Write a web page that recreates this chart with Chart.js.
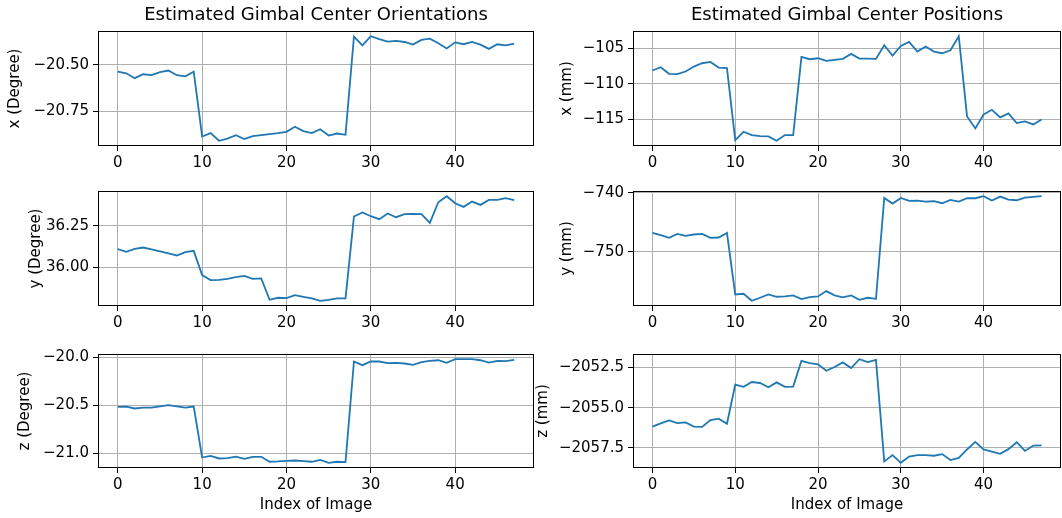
<!DOCTYPE html>
<html>
<head>
<meta charset="utf-8">
<script src="https://cdn.jsdelivr.net/npm/chart.js@4.4.1/dist/chart.umd.min.js"></script>
<style>
  html, body { margin: 0; padding: 0; background: #fff; }
  #fig { position: relative; width: 1062px; height: 518px; overflow: hidden; }
  #fig canvas { position: absolute; }
</style>
</head>
<body>
<div id="fig">
  <canvas id="orientX"></canvas>
  <canvas id="posX"></canvas>
  <canvas id="orientY"></canvas>
  <canvas id="posY"></canvas>
  <canvas id="orientZ"></canvas>
  <canvas id="posZ"></canvas>
</div>
<script>
// --- data ---
const imageIndex = [0, 1, 2, 3, 4, 5, 6, 7, 8, 9, 10, 11, 12, 13, 14, 15, 16, 17, 18, 19, 20, 21, 22, 23,
  24, 25, 26, 27, 28, 29, 30, 31, 32, 33, 34, 35, 36, 37, 38, 39, 40, 41, 42, 43, 44, 45, 46, 47];

const orientXDeg = [-20.536, -20.545, -20.571, -20.550, -20.555, -20.539, -20.530, -20.555, -20.561, -20.536,
  -20.884, -20.866, -20.907, -20.895, -20.877, -20.898, -20.882, -20.877, -20.871, -20.866,
  -20.859, -20.832, -20.855, -20.866, -20.845, -20.879, -20.868, -20.875, -20.348, -20.395,
  -20.346, -20.362, -20.375, -20.371, -20.377, -20.391, -20.366, -20.359, -20.384, -20.412,
  -20.379, -20.389, -20.377, -20.391, -20.414, -20.389, -20.395, -20.386];

const orientYDeg = [36.110, 36.094, 36.112, 36.120, 36.108, 36.096, 36.084, 36.072, 36.092, 36.100,
  35.954, 35.924, 35.926, 35.932, 35.942, 35.950, 35.932, 35.934, 35.806, 35.818,
  35.816, 35.834, 35.824, 35.814, 35.800, 35.806, 35.814, 35.814, 36.306, 36.330,
  36.308, 36.290, 36.324, 36.302, 36.320, 36.322, 36.320, 36.268, 36.392, 36.428,
  36.386, 36.364, 36.396, 36.376, 36.406, 36.406, 36.416, 36.404];

const orientZDeg = [-20.515, -20.512, -20.532, -20.522, -20.522, -20.509, -20.498, -20.509, -20.522, -20.512,
  -21.041, -21.024, -21.051, -21.048, -21.031, -21.055, -21.034, -21.034, -21.085, -21.082,
  -21.075, -21.072, -21.078, -21.085, -21.065, -21.096, -21.085, -21.089, -20.044, -20.082,
  -20.044, -20.044, -20.061, -20.058, -20.065, -20.078, -20.051, -20.038, -20.031, -20.058,
  -20.020, -20.020, -20.020, -20.031, -20.055, -20.038, -20.041, -20.027];

const posXmm = [-108.11, -107.64, -108.58, -108.63, -108.25, -107.55, -107.08, -106.89, -107.69, -107.78,
  -117.97, -116.79, -117.26, -117.41, -117.45, -118.07, -117.26, -117.26, -106.18, -106.51,
  -106.37, -106.75, -106.60, -106.46, -105.75, -106.42, -106.42, -106.46, -104.53, -105.99,
  -104.62, -104.06, -105.42, -104.72, -105.42, -105.66, -105.24, -103.25, -114.62, -116.32,
  -114.34, -113.68, -114.76, -114.20, -115.57, -115.33, -115.75, -115.05];

const posYmm = [-746.78, -747.18, -747.63, -746.95, -747.29, -747.06, -746.95, -747.63, -747.57, -746.78,
  -757.23, -757.12, -758.31, -757.80, -757.23, -757.63, -757.57, -757.40, -758.02, -757.68,
  -757.57, -756.67, -757.40, -757.74, -757.40, -758.14, -757.80, -757.97, -740.85, -741.81,
  -740.85, -741.36, -741.30, -741.47, -741.41, -741.75, -741.19, -741.47, -740.90, -740.90,
  -740.56, -741.30, -740.62, -741.13, -741.24, -740.79, -740.68, -740.56];

const posZmm = [-2056.18, -2055.98, -2055.79, -2055.96, -2055.92, -2056.18, -2056.20, -2055.77, -2055.69, -2056.00,
  -2053.57, -2053.71, -2053.41, -2053.47, -2053.73, -2053.43, -2053.71, -2053.69, -2052.09, -2052.23,
  -2052.31, -2052.71, -2052.48, -2052.19, -2052.54, -2051.99, -2052.17, -2052.03, -2058.34, -2057.95,
  -2058.43, -2058.04, -2057.95, -2057.95, -2057.99, -2057.89, -2058.26, -2058.12, -2057.60, -2057.13,
  -2057.60, -2057.73, -2057.87, -2057.58, -2057.15, -2057.69, -2057.36, -2057.34];

const indexTicks = [0, 10, 20, 30, 40];
const orientXTicks = [-20.75, -20.50];
const orientYTicks = [36.00, 36.25];
const orientZTicks = [-21.0, -20.5, -20.0];
const posXTicks = [-115, -110, -105];
const posYTicks = [-750, -740];
const posZTicks = [-2057.5, -2055.0, -2052.5];

// --- styling ---
const FONT = "'DejaVu Sans', sans-serif";
const TICK_SIZE = 15;
const TITLE_SIZE = 18;
const LINE_COLOR = '#1f77b4';
const GRID_COLOR = '#b0b0b0';

// black frame round the plot area, drawn above the line like matplotlib spines
const framePlugin = {
    id: 'frame',
    afterDatasetsDraw(chart) {
        const a = chart.chartArea;
        const ctx = chart.ctx;
        ctx.save();
        ctx.strokeStyle = '#000';
        ctx.lineWidth = 1;
        const l = Math.round(a.left) + 0.5, t = Math.round(a.top) + 0.5;
        const r = Math.round(a.right) - 0.5, b = Math.round(a.bottom) - 0.5;
        ctx.strokeRect(l, t, r - l, b - t);
        ctx.restore();
    }
};

const fmt = (v, d) => (v < 0 ? '\u2212' : '') + Math.abs(v).toFixed(d);

function makePanel(id, box, cfg) {
    const cv = document.getElementById(id);
    cv.width = box.w; cv.height = box.h;
    cv.style.left = box.x + 'px';
    cv.style.top = box.y + 'px';

    const vals = cfg.values;
    const lo = Math.min(...vals), hi = Math.max(...vals);
    const m = (hi - lo) * 0.05;
    const xm = (imageIndex[imageIndex.length - 1] - imageIndex[0]) * 0.05;

    new Chart(cv.getContext('2d'), {
        type: 'line',
        data: {
            datasets: [{
                data: imageIndex.map((x, i) => ({ x: x, y: vals[i] })),
                borderColor: LINE_COLOR,
                borderWidth: 1.8,
                pointRadius: 0,
                tension: 0,
                fill: false
            }]
        },
        options: {
            responsive: false,
            animation: false,
            devicePixelRatio: 1,
            layout: { padding: { top: box.padTop, right: box.padRight, left: 0, bottom: 0 } },
            plugins: {
                legend: { display: false },
                tooltip: { enabled: false },
                title: {
                    display: !!cfg.title,
                    text: cfg.title || '',
                    fullSize: false,
                    color: '#000',
                    font: { family: FONT, size: TITLE_SIZE, weight: 'normal' },
                    padding: { top: 5, bottom: 4.4 }
                }
            },
            scales: {
                x: {
                    type: 'linear',
                    min: imageIndex[0] - xm,
                    max: imageIndex[imageIndex.length - 1] + xm,
                    afterBuildTicks: s => { s.ticks = indexTicks.map(v => ({ value: v })); },
                    afterFit: s => { s.height = box.xAxisH; s.paddingLeft = 0; s.paddingRight = 0; },
                    grid: { color: GRID_COLOR, lineWidth: 1, tickLength: 5, tickColor: '#000', drawTicks: true },
                    border: { display: false },
                    ticks: {
                        autoSkip: false, maxRotation: 0, padding: 3, color: '#000',
                        font: { family: FONT, size: TICK_SIZE },
                        callback: v => String(v)
                    },
                    title: {
                        display: !!cfg.xTitle,
                        text: cfg.xTitle || '',
                        color: '#000',
                        font: { family: FONT, size: TICK_SIZE },
                        padding: { top: 0, bottom: 4 }
                    }
                },
                y: {
                    type: 'linear',
                    min: lo - m,
                    max: hi + m,
                    afterBuildTicks: s => { s.ticks = cfg.ticks.map(v => ({ value: v })); },
                    afterFit: s => { s.width = box.yAxisW; s.paddingTop = 0; s.paddingBottom = 0; },
                    grid: { color: GRID_COLOR, lineWidth: 1, tickLength: 5, tickColor: '#000', drawTicks: true },
                    border: { display: false },
                    ticks: {
                        autoSkip: false, padding: 4, color: '#000',
                        font: { family: FONT, size: TICK_SIZE },
                        callback: v => fmt(v, cfg.decimals)
                    },
                    title: {
                        display: true,
                        text: cfg.yTitle,
                        color: '#000',
                        font: { family: FONT, size: TICK_SIZE },
                        padding: { top: cfg.yTitlePad, bottom: 0 }
                    }
                }
            }
        },
        plugins: [framePlugin]
    });
}

// column / row geometry
const LEFT = { x: 0, w: 536, padRight: 2, yAxisW: 98 };
const RIGHT = { x: 530, w: 532, padRight: 1, yAxisW: 103 };
const ROW1 = { y: 0, h: 170, padTop: 0, xAxisH: 24 };
const ROW2 = { y: 180, h: 150, padTop: 11, xAxisH: 24 };
const ROW3 = { y: 340, h: 178, padTop: 14, xAxisH: 50 };
const box = (c, r) => Object.assign({}, c, r);

makePanel('orientX', box(LEFT, ROW1), {
    values: orientXDeg, ticks: orientXTicks, decimals: 2,
    title: 'Estimated Gimbal Center Orientations', yTitle: 'x (Degree)', yTitlePad: 6
});
makePanel('posX', box(RIGHT, ROW1), {
    values: posXmm, ticks: posXTicks, decimals: 0,
    title: 'Estimated Gimbal Center Positions', yTitle: 'x (mm)', yTitlePad: 27.7
});
makePanel('orientY', box(LEFT, ROW2), {
    values: orientYDeg, ticks: orientYTicks, decimals: 2,
    yTitle: 'y (Degree)', yTitlePad: 27
});
makePanel('posY', box(RIGHT, ROW2), {
    values: posYmm, ticks: posYTicks, decimals: 0,
    yTitle: 'y (mm)', yTitlePad: 27.7
});
makePanel('orientZ', box(LEFT, ROW3), {
    values: orientZDeg, ticks: orientZTicks, decimals: 1,
    yTitle: 'z (Degree)', yTitlePad: 16, xTitle: 'Index of Image'
});
makePanel('posZ', box(RIGHT, ROW3), {
    values: posZmm, ticks: posZTicks, decimals: 1,
    yTitle: 'z (mm)', yTitlePad: 4, xTitle: 'Index of Image'
});
</script>
</body>
</html>
